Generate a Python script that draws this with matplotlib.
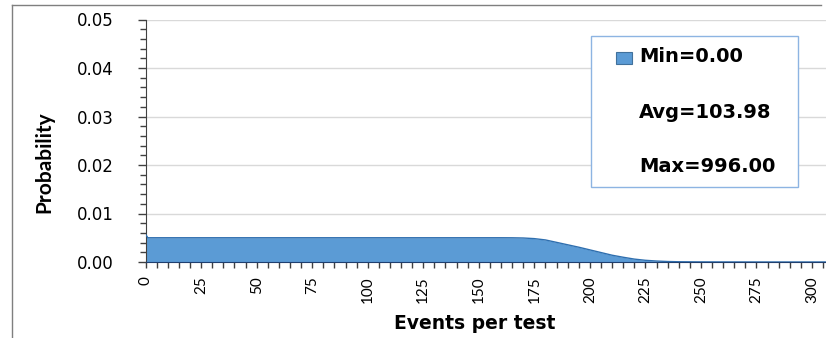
import matplotlib
matplotlib.use("Agg")
import matplotlib.pyplot as plt
from matplotlib.lines import Line2D
from matplotlib.patches import Rectangle
from matplotlib.ticker import MultipleLocator

# Data (probability density of events per test)
events = [0, 1, 5, 10, 20, 40, 60, 80, 100, 120, 140, 160, 165, 170, 175, 180, 185,
          190, 195, 200, 205, 210, 215, 220, 225, 230, 235, 240, 250, 260, 280, 306]
probability = [0.0057, 0.0050, 0.0050, 0.0050, 0.0050, 0.0050, 0.0050, 0.0050, 0.0050,
               0.0050, 0.0050, 0.0050, 0.00499, 0.00495, 0.00482, 0.00455, 0.00405,
               0.00355, 0.00305, 0.00250, 0.00195, 0.00140, 0.00098, 0.00060, 0.00035,
               0.00020, 0.00010, 0.00005, 0.00002, 0.00001, 0.0, 0.0]
stats_labels = ["Min=0.00", "Avg=103.98", "Max=996.00"]
x_ticks = list(range(0, 301, 25))
y_ticks = [0.00, 0.01, 0.02, 0.03, 0.04, 0.05]

W, H = 826, 338
fig = plt.figure(figsize=(W / 100, H / 100), dpi=100)
ax = fig.add_axes([145.6 / W, 1 - 262 / H, (826 - 145.6) / W, (262 - 19.5) / H])

fill_col = "#5B9BD5"
edge_col = "#2F6FAF"
ax.fill_between(events, probability, 0, color=fill_col, linewidth=0, zorder=2)
ax.plot(events, probability, color=edge_col, linewidth=1.0, zorder=3)

ax.set_xlim(0, 306.3)
ax.set_ylim(0, 0.05)
ax.set_xticks(x_ticks)
ax.set_yticks(y_ticks)
ax.xaxis.set_minor_locator(MultipleLocator(5))
ax.yaxis.set_minor_locator(MultipleLocator(0.002))
ax.set_yticklabels([f"{v:.2f}" for v in y_ticks], fontsize=12, family="DejaVu Sans")
ax.set_xticklabels([str(v) for v in x_ticks], rotation=90, fontsize=11, family="Lato")

ax.tick_params(axis="x", which="both", direction="out", length=4.5, width=1, color="#404040", pad=6)
ax.tick_params(axis="y", which="major", direction="out", length=6, width=1, color="#404040", pad=17)
ax.tick_params(axis="y", which="minor", direction="out", length=4, width=1, color="#404040")

ax.grid(axis="y", which="major", color="#D9D9D9", linewidth=1, zorder=0)
ax.set_axisbelow(True)
for s in ["top", "right"]:
    ax.spines[s].set_visible(False)
ax.spines["left"].set_color("#404040")
ax.spines["bottom"].set_color("#1F3F6F")
ax.spines["bottom"].set_zorder(4)

ax.set_xlabel("Events per test", fontsize=13.5, fontweight="bold", family="DejaVu Sans")
ax.xaxis.set_label_coords(0.483, -0.2144)
ax.set_ylabel("Probability", fontsize=15, fontweight="bold", family="Lato")
ax.yaxis.set_label_coords(-0.1346, 0.412)

# Stats legend box
fig.patches.append(Rectangle((590.7 / W, 1 - 186.7 / H), (798.3 - 590.7) / W, (186.7 - 35.7) / H,
                             transform=fig.transFigure, facecolor="white",
                             edgecolor="#8DB4E2", linewidth=1, zorder=5))
fig.patches.append(Rectangle((616 / W, 1 - 64.3 / H), 16 / W, 12 / H,
                             transform=fig.transFigure, facecolor=fill_col,
                             edgecolor="#41719C", linewidth=0.8, zorder=6))
for lab, yc in zip(stats_labels, [57, 113, 166.7]):
    fig.text(639 / W, 1 - yc / H, lab, fontsize=14, fontweight="bold", family="DejaVu Sans",
             va="center", ha="left", zorder=7)

# Outer chart frame (left and top edges)
fig.lines.append(Line2D([12 / W, 12 / W], [0, 1 - 5 / H], transform=fig.transFigure,
                        color="#7F7F7F", linewidth=1))
fig.lines.append(Line2D([12 / W, 821 / W], [1 - 5 / H, 1 - 5 / H], transform=fig.transFigure,
                        color="#7F7F7F", linewidth=1))

fig.savefig("out.png", dpi=100)
